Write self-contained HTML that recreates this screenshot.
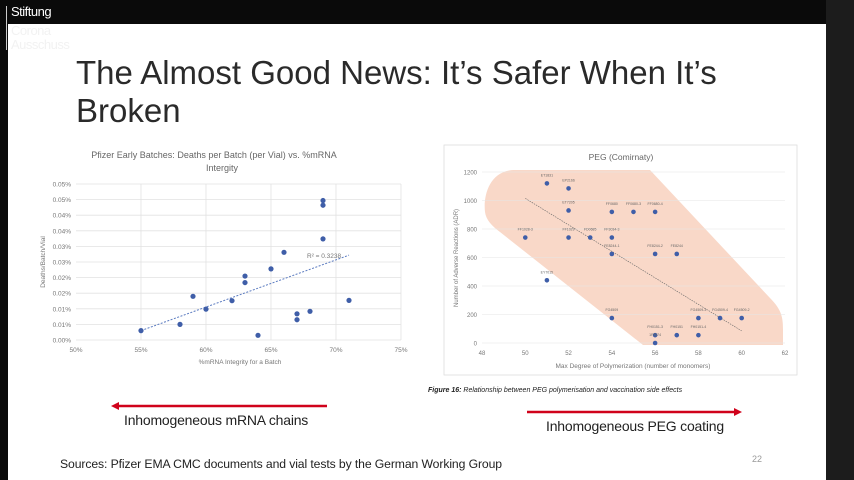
<!DOCTYPE html>
<html><head><meta charset="utf-8"><style>
body{margin:0;width:854px;height:480px;background:#0a0a0a;position:relative;overflow:hidden;font-family:"Liberation Sans",sans-serif}
.abs{position:absolute}
</style></head><body>
<div class="abs" style="left:826px;top:0;width:28px;height:480px;background:#1c1c1c"></div>
<div class="abs" style="left:8px;top:24px;width:818px;height:456px;background:#fff"></div>
<div class="abs" style="left:6px;top:6px;width:1px;height:44px;background:#ccc"></div>
<div class="abs" style="left:11px;top:4px;color:#fff;font-size:13px;letter-spacing:-0.5px">Stiftung</div>
<div class="abs" style="left:11px;top:24px;color:#f2f2f2;font-size:13px;line-height:14px;letter-spacing:-0.5px">Corona<br>Ausschuss</div>
<div class="abs" style="left:76px;top:54px;font-size:33px;line-height:38px;color:#2a2a2a;font-weight:normal;letter-spacing:0px">The Almost Good News: It’s Safer When It’s<br>Broken</div>

<svg class="abs" style="left:0;top:0" width="854" height="480">
<g id="left"></g>
<g id="right"></g>
<line x1="117" y1="406" x2="327" y2="406" stroke="#d0021b" stroke-width="2.5"/>
<polygon points="111,406 119,402 119,410" fill="#d0021b"/>
<line x1="527" y1="412" x2="736" y2="412" stroke="#d0021b" stroke-width="2.5"/>
<polygon points="742,412 734,408 734,416" fill="#d0021b"/>
</svg>

<div class="abs" style="left:124px;top:412px;font-size:14px;color:#222;letter-spacing:-0.2px">Inhomogeneous mRNA chains</div>
<div class="abs" style="left:546px;top:418px;font-size:14px;color:#222;letter-spacing:-0.2px">Inhomogeneous PEG coating</div>
<div class="abs" style="left:428px;top:387px;font-size:7px;font-style:italic;color:#222"><b>Figure 16:</b> Relationship between PEG polymerisation and vaccination side effects</div>
<div class="abs" style="left:60px;top:457px;font-size:12.2px;color:#222;letter-spacing:-0.1px">Sources: Pfizer EMA CMC documents and vial tests by the German Working Group</div>
<div class="abs" style="left:752px;top:454px;font-size:9px;color:#999">22</div>

<script>
const NS="http://www.w3.org/2000/svg";
function mk(p,t,a){const e=document.createElementNS(NS,t);for(const k in a)e.setAttribute(k,a[k]);p.appendChild(e);return e;}
// ---- Left chart data
const leftXTicks=[50,55,60,65,70,75];
const leftYTickLabels=["0.00%","0.01%","0.01%","0.02%","0.02%","0.03%","0.03%","0.04%","0.04%","0.05%","0.05%"];
const leftX=[55,58,59,60,62,63,63,64,65,66,67,67,68,69,69,69,71];
const leftY=[0.0030,0.0050,0.0140,0.0099,0.0126,0.0205,0.0184,0.0015,0.0228,0.0281,0.0084,0.0065,0.0092,0.0447,0.0432,0.0324,0.0127];
const leftTrendX=[55,71];
const leftTrendY=[0.0030,0.0272];
// ---- Right chart data
const rightXTicks=[48,50,52,54,56,58,60,62];
const rightYTicks=[0,200,400,600,800,1000,1200];
const rightLabels=["ET1831","EP2166","ET7205","FF0680","FF0680-3","FF0680-4","FF1028-3","FF1029","FD0685","FF3034-3","FE8244-1","FE8244-2","FE8244","EY7015","FG4509","FG4509-3","FG4509-4","FG4509-2","FH0151-3","FH0151","FH0151-4","1F9574"];
const rightX=[51,52,52,54,55,56,50,52,53,54,54,56,57,51,54,58,59,60,56,57,58,56];
const rightY=[1120,1085,930,920,920,920,740,740,740,740,625,625,625,440,175,175,175,175,55,55,55,0];
const rightTrendX=[50,60];
const rightTrendY=[1015,85];

const L=document.getElementById('left');
const lx=v=>76+(v-50)*13, ly=v=>340-v/0.05*156;
mk(L,'text',{x:214,y:158,'text-anchor':'middle','font-size':9,fill:'#666'}).textContent="Pfizer Early Batches: Deaths per Batch (per Vial) vs. %mRNA";
mk(L,'text',{x:222,y:171,'text-anchor':'middle','font-size':9,fill:'#666'}).textContent="Intergity";
leftYTickLabels.forEach((t,i)=>{const y=ly(i*0.005);
 const g=mk(L,'line',{x1:76,x2:401,y1:y,y2:y,stroke:'#e2e2e2','stroke-width':0.8});
 
 const tx=mk(L,'text',{x:71,y:y+2.5,'text-anchor':'end','font-size':6.5,fill:'#777'});tx.textContent=t;
 });
leftXTicks.forEach(v=>{const x=lx(v);
 if(v>50){const g=mk(L,'line',{x1:x,x2:x,y1:ly(0.05),y2:340,stroke:'#e2e2e2','stroke-width':0.8});}
 const tx=mk(L,'text',{x:x,y:352,'text-anchor':'middle','font-size':6.5,fill:'#777'});tx.textContent=v+"%";
 });
let t=mk(L,'text',{x:240,y:364,'text-anchor':'middle','font-size':6.5,fill:'#777'});t.textContent="%mRNA Integrity for a Batch";

t=mk(L,'text',{x:0,y:0,'text-anchor':'middle','font-size':6.5,fill:'#777',transform:'translate(45,262) rotate(-90)'});t.textContent="Deaths/Batch/Vial";

t=mk(L,'line',{x1:lx(leftTrendX[0]),y1:ly(leftTrendY[0]),x2:lx(leftTrendX[1]),y2:ly(leftTrendY[1]),stroke:'#5b7bc0','stroke-width':1,'stroke-dasharray':'2,1.5'});

t=mk(L,'text',{x:307,y:258,'font-size':6.5,fill:'#777'});t.textContent="R² = 0.3238";

leftX.forEach((v,i)=>{const c=mk(L,'circle',{cx:lx(v),cy:ly(leftY[i]),r:2.6,fill:'#3f5ea8'});
 });

const R=document.getElementById('right');
const rx=v=>482+(v-48)*21.64, ry=v=>343-v/1200*171;
t=mk(R,'rect',{x:444,y:145,width:353,height:230,fill:'#fff',stroke:'#ddd','stroke-width':0.8});

t=mk(R,'path',{d:'M485,212 C483,195 490,170 515,170 L650,170 L770,298 C782,310 783,318 783,330 L783,345 L643,345 L500,232 C492,226 486,220 485,212 Z',fill:'#f9d8c8'});

t=mk(R,'text',{x:621,y:160,'text-anchor':'middle','font-size':8.5,fill:'#666'});t.textContent="PEG (Comirnaty)";

rightYTicks.forEach(v=>{const y=ry(v);
 const g=mk(R,'line',{x1:482,x2:785,y1:y,y2:y,stroke:'#e6e6e6','stroke-width':0.6});
 
 const tx=mk(R,'text',{x:477,y:y+2.5,'text-anchor':'end','font-size':6,fill:'#777'});tx.textContent=v;
 });
rightXTicks.forEach(v=>{const tx=mk(R,'text',{x:rx(v),y:355,'text-anchor':'middle','font-size':6,fill:'#777'});tx.textContent=v;
 });
t=mk(R,'text',{x:633,y:368,'text-anchor':'middle','font-size':6.5,fill:'#777'});t.textContent="Max Degree of Polymerization (number of monomers)";

t=mk(R,'text',{x:0,y:0,'text-anchor':'middle','font-size':6,fill:'#777',transform:'translate(458,258) rotate(-90)'});t.textContent="Number of Adverse Reactions (ADR)";

t=mk(R,'line',{x1:rx(rightTrendX[0]),y1:ry(rightTrendY[0]),x2:rx(rightTrendX[1]),y2:ry(rightTrendY[1]),stroke:'#666','stroke-width':0.6,'stroke-dasharray':'1.5,1'});

rightX.forEach((v,i)=>{const c=mk(R,'circle',{cx:rx(v),cy:ry(rightY[i]),r:2.3,fill:'#3f5ea8'});
 
 const tx=mk(R,'text',{x:rx(v),y:ry(rightY[i])-7,'text-anchor':'middle','font-size':3.5,fill:'#666'});tx.textContent=rightLabels[i];
 });
</script>
</body></html>
